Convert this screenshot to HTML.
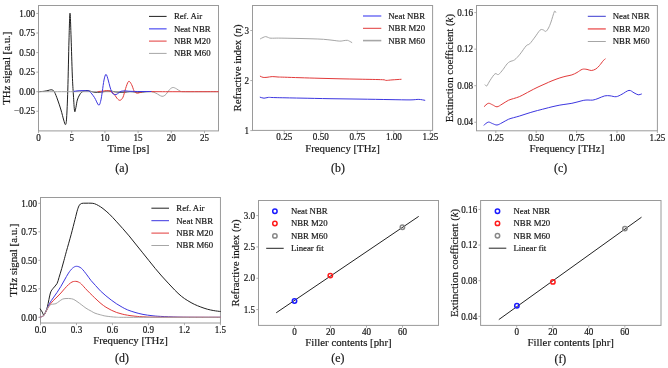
<!DOCTYPE html>
<html><head><meta charset="utf-8"><style>
html,body{margin:0;padding:0;background:#fff;}
body{width:668px;height:368px;overflow:hidden;}
svg{display:block;font-family:"Liberation Serif", serif;will-change:transform;}
svg text{fill:#161616;stroke:#161616;stroke-width:0.18px;}
</style></head><body>
<svg width="668" height="368" viewBox="0 0 668 368">
<rect width="668" height="368" fill="#fff"/>
<rect x="38.5" y="5.5" width="180" height="125.4" fill="none" stroke="#9a9a9a" stroke-width="1.0"/>
<line x1="38.5" y1="130.9" x2="38.5" y2="133.1" stroke="#9a9a9a" stroke-width="0.8"/>
<text x="0" y="0" font-size="9.1" text-anchor="middle" transform="translate(38.5,140.6) scale(1,1.06)">0</text>
<line x1="71.7" y1="130.9" x2="71.7" y2="133.1" stroke="#9a9a9a" stroke-width="0.8"/>
<text x="0" y="0" font-size="9.1" text-anchor="middle" transform="translate(71.7,140.6) scale(1,1.06)">5</text>
<line x1="104.9" y1="130.9" x2="104.9" y2="133.1" stroke="#9a9a9a" stroke-width="0.8"/>
<text x="0" y="0" font-size="9.1" text-anchor="middle" transform="translate(104.9,140.6) scale(1,1.06)">10</text>
<line x1="138.1" y1="130.9" x2="138.1" y2="133.1" stroke="#9a9a9a" stroke-width="0.8"/>
<text x="0" y="0" font-size="9.1" text-anchor="middle" transform="translate(138.1,140.6) scale(1,1.06)">15</text>
<line x1="171.3" y1="130.9" x2="171.3" y2="133.1" stroke="#9a9a9a" stroke-width="0.8"/>
<text x="0" y="0" font-size="9.1" text-anchor="middle" transform="translate(171.3,140.6) scale(1,1.06)">20</text>
<line x1="204.5" y1="130.9" x2="204.5" y2="133.1" stroke="#9a9a9a" stroke-width="0.8"/>
<text x="0" y="0" font-size="9.1" text-anchor="middle" transform="translate(204.5,140.6) scale(1,1.06)">25</text>
<line x1="36.3" y1="111.26" x2="38.5" y2="111.26" stroke="#9a9a9a" stroke-width="0.8"/>
<text x="0" y="0" font-size="9.1" text-anchor="end" transform="translate(35.1,114.46) scale(1,1.06)">−0.25</text>
<line x1="36.3" y1="91.7" x2="38.5" y2="91.7" stroke="#9a9a9a" stroke-width="0.8"/>
<text x="0" y="0" font-size="9.1" text-anchor="end" transform="translate(35.1,94.9) scale(1,1.06)">0.00</text>
<line x1="36.3" y1="72.14" x2="38.5" y2="72.14" stroke="#9a9a9a" stroke-width="0.8"/>
<text x="0" y="0" font-size="9.1" text-anchor="end" transform="translate(35.1,75.34) scale(1,1.06)">0.25</text>
<line x1="36.3" y1="52.58" x2="38.5" y2="52.58" stroke="#9a9a9a" stroke-width="0.8"/>
<text x="0" y="0" font-size="9.1" text-anchor="end" transform="translate(35.1,55.78) scale(1,1.06)">0.50</text>
<line x1="36.3" y1="33.01" x2="38.5" y2="33.01" stroke="#9a9a9a" stroke-width="0.8"/>
<text x="0" y="0" font-size="9.1" text-anchor="end" transform="translate(35.1,36.21) scale(1,1.06)">0.75</text>
<line x1="36.3" y1="13.45" x2="38.5" y2="13.45" stroke="#9a9a9a" stroke-width="0.8"/>
<text x="0" y="0" font-size="9.1" text-anchor="end" transform="translate(35.1,16.65) scale(1,1.06)">1.00</text>
<text x="128.5" y="151.5" font-size="10.8" text-anchor="middle" >Time [ps]</text>
<text x="0" y="0" font-size="10.8" text-anchor="middle" transform="translate(10,68.2) rotate(-90)">THz signal [a.u.]</text>
<path d="M38.5,91.7 C39.42,91.63 42.42,91.5 44,91.3 C45.58,91.1 46.87,90.75 48,90.5 C49.13,90.25 50,89.85 50.8,89.8 C51.6,89.75 52.17,89.8 52.8,90.2 C53.43,90.6 53.78,90.57 54.6,92.2 C55.42,93.83 56.63,97.03 57.7,100 C58.77,102.97 60,106.67 61,110 C62,113.33 62.95,117.57 63.7,120 C64.45,122.43 65.02,124.93 65.5,124.6 C65.98,124.27 66.22,123.77 66.6,118 C66.98,112.23 67.4,103 67.8,90 C68.2,77 68.63,52.8 69,40 C69.37,27.2 69.65,13.53 70,13.2 C70.35,12.87 70.72,27.7 71.1,38 C71.48,48.3 71.92,65.5 72.3,75 C72.68,84.5 73.02,88.97 73.4,95 C73.78,101.03 74.18,109.12 74.6,111.2 C75.02,113.28 75.45,109.37 75.9,107.5 C76.35,105.63 76.7,102.08 77.3,100 C77.9,97.92 78.8,96.27 79.5,95 C80.2,93.73 80.75,93.07 81.5,92.4 C82.25,91.73 83.08,91.3 84,91 C84.92,90.7 85.83,90.53 87,90.6 C88.17,90.67 89.67,91.12 91,91.4 C92.33,91.68 93.5,92.17 95,92.3 C96.5,92.43 98.33,92.33 100,92.2 C101.67,92.07 103.33,91.7 105,91.5 C106.67,91.3 108.33,90.95 110,91 C111.67,91.05 113.33,91.58 115,91.8 C116.67,92.02 118.33,92.23 120,92.3 C121.67,92.37 123.33,92.32 125,92.2 C126.67,92.08 128.33,91.63 130,91.6 C131.67,91.57 133.33,91.88 135,92 C136.67,92.12 138.33,92.33 140,92.3 C141.67,92.27 143.17,91.93 145,91.8 C146.83,91.67 150,91.55 151,91.5" fill="none" stroke="#202020" stroke-width="1.0" stroke-linejoin="round" stroke-linecap="round" opacity="1.0"/>
<path d="M38.5,91.7 C48.75,91.7 81.42,91.7 100,91.7 C118.58,91.7 141.33,91.7 150,91.7 C158.67,91.7 151,91.45 152,91.7 C153,91.95 154.33,92.43 156,93.2 C157.67,93.97 160.33,96.12 162,96.3 C163.67,96.48 164.75,95.42 166,94.3 C167.25,93.18 168.35,90.73 169.5,89.6 C170.65,88.47 171.73,87.63 172.9,87.5 C174.07,87.37 175.23,88.17 176.5,88.8 C177.77,89.43 179.08,90.82 180.5,91.3 C181.92,91.78 181.75,91.63 185,91.7 C188.25,91.77 194.45,91.7 200,91.7 C205.55,91.7 215.25,91.7 218.3,91.7" fill="none" stroke="#a6a6a6" stroke-width="1.0" stroke-linejoin="round" stroke-linecap="round" opacity="1.0"/>
<path d="M98,91.6 C98.83,91.52 101.58,91.27 103,91.1 C104.42,90.93 105.33,90.58 106.5,90.6 C107.67,90.62 108.83,90.75 110,91.2 C111.17,91.65 112.33,92.12 113.5,93.3 C114.67,94.48 115.92,97.13 117,98.3 C118.08,99.47 119,100.48 120,100.3 C121,100.12 122.07,99.17 123,97.2 C123.93,95.23 124.67,91.13 125.6,88.5 C126.53,85.87 127.6,82.05 128.6,81.4 C129.6,80.75 130.7,83.03 131.6,84.6 C132.5,86.17 133.22,89.4 134,90.8 C134.78,92.2 135.53,92.63 136.3,93 C137.07,93.37 137.82,93.15 138.6,93 C139.38,92.85 139.93,92.35 141,92.1 C142.07,91.85 141.83,91.57 145,91.5 C148.17,91.43 147.78,91.67 160,91.7 C172.22,91.73 208.58,91.7 218.3,91.7" fill="none" stroke="#e23a3a" stroke-width="1.0" stroke-linejoin="round" stroke-linecap="round" opacity="1.0"/>
<path d="M74,91.3 C74.67,91.22 76.67,90.92 78,90.8 C79.33,90.68 80.58,90.62 82,90.6 C83.42,90.58 85.25,90.57 86.5,90.7 C87.75,90.83 88.18,90.28 89.5,91.4 C90.82,92.52 92.88,95.12 94.4,97.4 C95.92,99.68 97.55,104.5 98.6,105.1 C99.65,105.7 100.08,103.25 100.7,101 C101.32,98.75 101.75,95.1 102.3,91.6 C102.85,88.1 103.38,82.88 104,80 C104.62,77.12 105.3,74.3 106,74.3 C106.7,74.3 107.53,77.88 108.2,80 C108.87,82.12 109.43,85.07 110,87 C110.57,88.93 111.07,90.43 111.6,91.6 C112.13,92.77 112.47,93.5 113.2,94 C113.93,94.5 115.03,94.83 116,94.6 C116.97,94.37 118.17,93.15 119,92.6 C119.83,92.05 120,91.58 121,91.3 C122,91.02 123.5,90.9 125,90.9 C126.5,90.9 127.5,91.2 130,91.3 C132.5,91.4 136.5,91.47 140,91.5 C143.5,91.53 149.17,91.5 151,91.5" fill="none" stroke="#3c36e0" stroke-width="1.0" stroke-linejoin="round" stroke-linecap="round" opacity="1.0"/>
<line x1="149" y1="16.4" x2="166.6" y2="16.4" stroke="#202020" stroke-width="1.0" opacity="1"/>
<text x="173.9" y="19.3" font-size="8.75" text-anchor="start" >Ref. Air</text>
<line x1="149" y1="28.8" x2="166.6" y2="28.8" stroke="#7a7af5" stroke-width="1.6" opacity="1"/>
<text x="173.9" y="31.7" font-size="8.75" text-anchor="start" >Neat NBR</text>
<line x1="149" y1="41.1" x2="166.6" y2="41.1" stroke="#e23a3a" stroke-width="1.0" opacity="1"/>
<text x="173.9" y="44" font-size="8.75" text-anchor="start" >NBR M20</text>
<line x1="149" y1="53.4" x2="166.6" y2="53.4" stroke="#a6a6a6" stroke-width="1.0" opacity="1"/>
<text x="173.9" y="56.3" font-size="8.75" text-anchor="start" >NBR M60</text>
<rect x="252.5" y="5.5" width="180.1" height="124.9" fill="none" stroke="#9a9a9a" stroke-width="1.0"/>
<line x1="284.26" y1="130.4" x2="284.26" y2="132.6" stroke="#9a9a9a" stroke-width="0.8"/>
<text x="0" y="0" font-size="9.1" text-anchor="middle" transform="translate(284.26,140.3) scale(1,1.06)">0.25</text>
<line x1="320.8" y1="130.4" x2="320.8" y2="132.6" stroke="#9a9a9a" stroke-width="0.8"/>
<text x="0" y="0" font-size="9.1" text-anchor="middle" transform="translate(320.8,140.3) scale(1,1.06)">0.50</text>
<line x1="357.33" y1="130.4" x2="357.33" y2="132.6" stroke="#9a9a9a" stroke-width="0.8"/>
<text x="0" y="0" font-size="9.1" text-anchor="middle" transform="translate(357.33,140.3) scale(1,1.06)">0.75</text>
<line x1="393.87" y1="130.4" x2="393.87" y2="132.6" stroke="#9a9a9a" stroke-width="0.8"/>
<text x="0" y="0" font-size="9.1" text-anchor="middle" transform="translate(393.87,140.3) scale(1,1.06)">1.00</text>
<line x1="430.4" y1="130.4" x2="430.4" y2="132.6" stroke="#9a9a9a" stroke-width="0.8"/>
<text x="0" y="0" font-size="9.1" text-anchor="middle" transform="translate(430.4,140.3) scale(1,1.06)">1.25</text>
<line x1="250.3" y1="130.6" x2="252.5" y2="130.6" stroke="#9a9a9a" stroke-width="0.8"/>
<text x="0" y="0" font-size="9.1" text-anchor="end" transform="translate(249.1,133.8) scale(1,1.06)">1</text>
<line x1="250.3" y1="80.55" x2="252.5" y2="80.55" stroke="#9a9a9a" stroke-width="0.8"/>
<text x="0" y="0" font-size="9.1" text-anchor="end" transform="translate(249.1,83.75) scale(1,1.06)">2</text>
<line x1="250.3" y1="30.5" x2="252.5" y2="30.5" stroke="#9a9a9a" stroke-width="0.8"/>
<text x="0" y="0" font-size="9.1" text-anchor="end" transform="translate(249.1,33.7) scale(1,1.06)">3</text>
<text x="342.55" y="151.5" font-size="10.8" text-anchor="middle" >Frequency [THz]</text>
<text x="0" y="0" font-size="10.8" text-anchor="middle" transform="translate(240.7,67.95) rotate(-90)">Refractive index (<tspan font-style="italic">n</tspan>)</text>
<path d="M260.2,97.2 C260.83,97.37 262.65,98.17 264,98.2 C265.35,98.23 266.47,97.5 268.3,97.4 C270.13,97.3 269.72,97.48 275,97.6 C280.28,97.72 290.83,97.92 300,98.1 C309.17,98.28 320,98.53 330,98.7 C340,98.87 350,98.95 360,99.1 C370,99.25 381.67,99.47 390,99.6 C398.33,99.73 405.2,99.93 410,99.9 C414.8,99.87 416.33,99.33 418.8,99.4 C421.27,99.47 423.8,100.15 424.8,100.3" fill="none" stroke="#3c36e0" stroke-width="1.0" stroke-linejoin="round" stroke-linecap="round" opacity="1.0"/>
<path d="M260.3,76.2 C260.77,76.4 261.98,77.22 263.1,77.4 C264.22,77.58 265.48,77.43 267,77.3 C268.52,77.17 270.37,76.65 272.2,76.6 C274.03,76.55 275.95,76.9 278,77 C280.05,77.1 280.83,77.08 284.5,77.2 C288.17,77.32 294.08,77.52 300,77.7 C305.92,77.88 313.33,78.12 320,78.3 C326.67,78.48 333.33,78.65 340,78.8 C346.67,78.95 352.93,79.05 360,79.2 C367.07,79.35 378.05,79.5 382.4,79.7 C386.75,79.9 384.5,80.37 386.1,80.4 C387.7,80.43 389.5,80.08 392,79.9 C394.5,79.72 399.58,79.4 401.1,79.3" fill="none" stroke="#e23a3a" stroke-width="1.0" stroke-linejoin="round" stroke-linecap="round" opacity="1.0"/>
<path d="M260.5,38.8 C260.92,38.58 262.13,37.87 263,37.5 C263.87,37.13 264.78,36.58 265.7,36.6 C266.62,36.62 267.62,37.33 268.5,37.6 C269.38,37.87 269.33,38.12 271,38.2 C272.67,38.28 275.33,38.08 278.5,38.1 C281.67,38.12 286.25,38.23 290,38.3 C293.75,38.37 297.33,38.42 301,38.5 C304.67,38.58 308.27,38.67 312,38.8 C315.73,38.93 320.07,39.07 323.4,39.3 C326.73,39.53 329.27,39.9 332,40.2 C334.73,40.5 337.8,41.03 339.8,41.1 C341.8,41.17 342.75,40.73 344,40.6 C345.25,40.47 346.38,40.2 347.3,40.3 C348.22,40.4 348.75,40.83 349.5,41.2 C350.25,41.57 351.42,42.28 351.8,42.5" fill="none" stroke="#a6a6a6" stroke-width="1.0" stroke-linejoin="round" stroke-linecap="round" opacity="1.0"/>
<line x1="363" y1="16" x2="381.3" y2="16" stroke="#7a7af5" stroke-width="1.6" opacity="1"/>
<text x="388.3" y="18.9" font-size="8.75" text-anchor="start" >Neat NBR</text>
<line x1="363" y1="28.3" x2="381.3" y2="28.3" stroke="#e23a3a" stroke-width="1.0" opacity="1"/>
<text x="388.3" y="31.2" font-size="8.75" text-anchor="start" >NBR M20</text>
<line x1="363" y1="40.6" x2="381.3" y2="40.6" stroke="#a6a6a6" stroke-width="1.6" opacity="1"/>
<text x="388.3" y="43.5" font-size="8.75" text-anchor="start" >NBR M60</text>
<rect x="476.5" y="5.5" width="180.9" height="125.3" fill="none" stroke="#9a9a9a" stroke-width="1.0"/>
<line x1="495.8" y1="130.8" x2="495.8" y2="133" stroke="#9a9a9a" stroke-width="0.8"/>
<text x="0" y="0" font-size="9.1" text-anchor="middle" transform="translate(495.8,140.6) scale(1,1.06)">0.25</text>
<line x1="536.2" y1="130.8" x2="536.2" y2="133" stroke="#9a9a9a" stroke-width="0.8"/>
<text x="0" y="0" font-size="9.1" text-anchor="middle" transform="translate(536.2,140.6) scale(1,1.06)">0.50</text>
<line x1="576.6" y1="130.8" x2="576.6" y2="133" stroke="#9a9a9a" stroke-width="0.8"/>
<text x="0" y="0" font-size="9.1" text-anchor="middle" transform="translate(576.6,140.6) scale(1,1.06)">0.75</text>
<line x1="617" y1="130.8" x2="617" y2="133" stroke="#9a9a9a" stroke-width="0.8"/>
<text x="0" y="0" font-size="9.1" text-anchor="middle" transform="translate(617,140.6) scale(1,1.06)">1.00</text>
<line x1="657.4" y1="130.8" x2="657.4" y2="133" stroke="#9a9a9a" stroke-width="0.8"/>
<text x="0" y="0" font-size="9.1" text-anchor="middle" transform="translate(657.4,140.6) scale(1,1.06)">1.25</text>
<line x1="474.3" y1="122.26" x2="476.5" y2="122.26" stroke="#9a9a9a" stroke-width="0.8"/>
<text x="0" y="0" font-size="9.1" text-anchor="end" transform="translate(473.1,125.46) scale(1,1.06)">0.04</text>
<line x1="474.3" y1="85.7" x2="476.5" y2="85.7" stroke="#9a9a9a" stroke-width="0.8"/>
<text x="0" y="0" font-size="9.1" text-anchor="end" transform="translate(473.1,88.9) scale(1,1.06)">0.08</text>
<line x1="474.3" y1="49.15" x2="476.5" y2="49.15" stroke="#9a9a9a" stroke-width="0.8"/>
<text x="0" y="0" font-size="9.1" text-anchor="end" transform="translate(473.1,52.35) scale(1,1.06)">0.12</text>
<line x1="474.3" y1="12.6" x2="476.5" y2="12.6" stroke="#9a9a9a" stroke-width="0.8"/>
<text x="0" y="0" font-size="9.1" text-anchor="end" transform="translate(473.1,15.8) scale(1,1.06)">0.16</text>
<text x="566.95" y="151.8" font-size="10.8" text-anchor="middle" >Frequency [THz]</text>
<text x="0" y="0" font-size="10.8" text-anchor="middle" transform="translate(453.3,68.15) rotate(-90)">Extinction coefficient (<tspan font-style="italic">k</tspan>)</text>
<path d="M484,125.1 C484.72,124.6 486.88,122.35 488.3,122.1 C489.72,121.85 491.05,123.12 492.5,123.6 C493.95,124.08 495.42,125.13 497,125 C498.58,124.87 500.1,123.75 502,122.8 C503.9,121.85 506.48,120.15 508.4,119.3 C510.32,118.45 511.68,118.23 513.5,117.7 C515.32,117.17 517.05,116.78 519.3,116.1 C521.55,115.42 524.38,114.42 527,113.6 C529.62,112.78 532,112.03 535,111.2 C538,110.37 542.17,109.33 545,108.6 C547.83,107.87 549.52,107.38 552,106.8 C554.48,106.22 557.57,105.53 559.9,105.1 C562.23,104.67 564,104.5 566,104.2 C568,103.9 569.9,103.7 571.9,103.3 C573.9,102.9 576.02,102.3 578,101.8 C579.98,101.3 582.13,100.6 583.8,100.3 C585.47,100 586.5,100.03 588,100 C589.5,99.97 591.13,100.35 592.8,100.1 C594.47,99.85 596.02,99.2 598,98.5 C599.98,97.8 602.7,96.35 604.7,95.9 C606.7,95.45 608.08,95.67 610,95.8 C611.92,95.93 614.2,96.97 616.2,96.7 C618.2,96.43 619.87,95.25 622,94.2 C624.13,93.15 627,90.63 629,90.4 C631,90.17 632.47,92.07 634,92.8 C635.53,93.53 636.97,94.6 638.2,94.8 C639.43,95 640.87,94.13 641.4,94" fill="none" stroke="#3c36e0" stroke-width="1.0" stroke-linejoin="round" stroke-linecap="round" opacity="1.0"/>
<path d="M484.3,106.5 C484.97,105.97 486.93,103.58 488.3,103.3 C489.67,103.02 491.05,104.22 492.5,104.8 C493.95,105.38 495.42,106.9 497,106.8 C498.58,106.7 500.1,105.28 502,104.2 C503.9,103.12 506.48,101.23 508.4,100.3 C510.32,99.37 511.68,99.2 513.5,98.6 C515.32,98 517.38,97.5 519.3,96.7 C521.22,95.9 523.22,94.73 525,93.8 C526.78,92.87 528,92.15 530,91.1 C532,90.05 534.5,88.7 537,87.5 C539.5,86.3 542.5,85.02 545,83.9 C547.5,82.78 549.52,81.8 552,80.8 C554.48,79.8 557.57,78.67 559.9,77.9 C562.23,77.13 564,76.7 566,76.2 C568,75.7 570.07,75.52 571.9,74.9 C573.73,74.28 575.27,73.43 577,72.5 C578.73,71.57 580.63,69.82 582.3,69.3 C583.97,68.78 585.5,69.2 587,69.4 C588.5,69.6 589.83,70.57 591.3,70.5 C592.77,70.43 594.43,69.83 595.8,69 C597.17,68.17 598.27,66.88 599.5,65.5 C600.73,64.12 602.25,61.78 603.2,60.7 C604.15,59.62 604.87,59.28 605.2,59" fill="none" stroke="#e23a3a" stroke-width="1.0" stroke-linejoin="round" stroke-linecap="round" opacity="1.0"/>
<path d="M485.2,84.8 C485.47,84.98 486,86.62 486.8,85.9 C487.6,85.18 488.63,82.52 490,80.5 C491.37,78.48 493.58,74.8 495,73.8 C496.42,72.8 497.17,75.22 498.5,74.5 C499.83,73.78 501.58,71.25 503,69.5 C504.42,67.75 505.83,65.32 507,64 C508.17,62.68 508.73,62.3 510,61.6 C511.27,60.9 512.93,61.03 514.6,59.8 C516.27,58.57 518.07,56.53 520,54.2 C521.93,51.87 524.58,47.53 526.2,45.8 C527.82,44.07 528.23,45.27 529.7,43.8 C531.17,42.33 533.28,39.27 535,37 C536.72,34.73 538.67,31.4 540,30.2 C541.33,29 542.03,29.6 543,29.8 C543.97,30 544.88,31.7 545.8,31.4 C546.72,31.1 547.63,29.57 548.5,28 C549.37,26.43 550.02,24.75 551,22 C551.98,19.25 553.62,13.08 554.4,11.5 C555.18,9.92 555.48,12.33 555.7,12.5" fill="none" stroke="#a6a6a6" stroke-width="1.0" stroke-linejoin="round" stroke-linecap="round" opacity="1.0"/>
<line x1="587.8" y1="16.3" x2="605.8" y2="16.3" stroke="#3a3ad0" stroke-width="1.0" opacity="1"/>
<text x="612.8" y="19.2" font-size="8.75" text-anchor="start" >Neat NBR</text>
<line x1="587.8" y1="28.9" x2="605.8" y2="28.9" stroke="#f08080" stroke-width="1.8" opacity="1"/>
<text x="612.8" y="31.8" font-size="8.75" text-anchor="start" >NBR M20</text>
<line x1="587.8" y1="41.5" x2="605.8" y2="41.5" stroke="#a6a6a6" stroke-width="1.0" opacity="1"/>
<text x="612.8" y="44.4" font-size="8.75" text-anchor="start" >NBR M60</text>
<rect x="40.5" y="197.5" width="179.95" height="125.5" fill="none" stroke="#9a9a9a" stroke-width="1.0"/>
<line x1="40.5" y1="323" x2="40.5" y2="325.2" stroke="#9a9a9a" stroke-width="0.8"/>
<text x="0" y="0" font-size="9.1" text-anchor="middle" transform="translate(40.5,332.7) scale(1,1.06)">0.0</text>
<line x1="76.49" y1="323" x2="76.49" y2="325.2" stroke="#9a9a9a" stroke-width="0.8"/>
<text x="0" y="0" font-size="9.1" text-anchor="middle" transform="translate(76.49,332.7) scale(1,1.06)">0.3</text>
<line x1="112.48" y1="323" x2="112.48" y2="325.2" stroke="#9a9a9a" stroke-width="0.8"/>
<text x="0" y="0" font-size="9.1" text-anchor="middle" transform="translate(112.48,332.7) scale(1,1.06)">0.6</text>
<line x1="148.47" y1="323" x2="148.47" y2="325.2" stroke="#9a9a9a" stroke-width="0.8"/>
<text x="0" y="0" font-size="9.1" text-anchor="middle" transform="translate(148.47,332.7) scale(1,1.06)">0.9</text>
<line x1="184.46" y1="323" x2="184.46" y2="325.2" stroke="#9a9a9a" stroke-width="0.8"/>
<text x="0" y="0" font-size="9.1" text-anchor="middle" transform="translate(184.46,332.7) scale(1,1.06)">1.2</text>
<line x1="220.45" y1="323" x2="220.45" y2="325.2" stroke="#9a9a9a" stroke-width="0.8"/>
<text x="0" y="0" font-size="9.1" text-anchor="middle" transform="translate(220.45,332.7) scale(1,1.06)">1.5</text>
<line x1="38.3" y1="317.3" x2="40.5" y2="317.3" stroke="#9a9a9a" stroke-width="0.8"/>
<text x="0" y="0" font-size="9.1" text-anchor="end" transform="translate(37.1,320.5) scale(1,1.06)">0.00</text>
<line x1="38.3" y1="288.8" x2="40.5" y2="288.8" stroke="#9a9a9a" stroke-width="0.8"/>
<text x="0" y="0" font-size="9.1" text-anchor="end" transform="translate(37.1,292) scale(1,1.06)">0.25</text>
<line x1="38.3" y1="260.3" x2="40.5" y2="260.3" stroke="#9a9a9a" stroke-width="0.8"/>
<text x="0" y="0" font-size="9.1" text-anchor="end" transform="translate(37.1,263.5) scale(1,1.06)">0.50</text>
<line x1="38.3" y1="231.8" x2="40.5" y2="231.8" stroke="#9a9a9a" stroke-width="0.8"/>
<text x="0" y="0" font-size="9.1" text-anchor="end" transform="translate(37.1,235) scale(1,1.06)">0.75</text>
<line x1="38.3" y1="203.3" x2="40.5" y2="203.3" stroke="#9a9a9a" stroke-width="0.8"/>
<text x="0" y="0" font-size="9.1" text-anchor="end" transform="translate(37.1,206.5) scale(1,1.06)">1.00</text>
<text x="130.47" y="344" font-size="10.8" text-anchor="middle" >Frequency [THz]</text>
<text x="0" y="0" font-size="10.8" text-anchor="middle" transform="translate(17,260.25) rotate(-90)">THz signal [a.u.]</text>
<path d="M40.2,308.9 C40.53,309.42 41.62,310.98 42.2,312 C42.78,313.02 43.15,315 43.7,315 C44.25,315 44.87,313.43 45.5,312 C46.13,310.57 46.68,309.57 47.5,306.4 C48.32,303.23 49.45,296.02 50.4,293 C51.35,289.98 52.1,289.87 53.2,288.3 C54.3,286.73 56.03,285.4 57,283.6 C57.97,281.8 58.22,280 59,277.5 C59.78,275 60.87,271.47 61.7,268.6 C62.53,265.73 63.22,263.17 64,260.3 C64.78,257.43 65.2,255.73 66.4,251.4 C67.6,247.07 69.77,239.62 71.2,234.3 C72.63,228.98 73.95,223.58 75,219.5 C76.05,215.42 76.77,212.18 77.5,209.8 C78.23,207.42 78.7,206.27 79.4,205.2 C80.1,204.13 80.6,203.73 81.7,203.4 C82.8,203.07 84.45,203.23 86,203.2 C87.55,203.17 89.58,203.12 91,203.2 C92.42,203.28 93.25,203.3 94.5,203.7 C95.75,204.1 97.08,204.78 98.5,205.6 C99.92,206.42 101.17,207.17 103,208.6 C104.83,210.03 107.32,212.1 109.5,214.2 C111.68,216.3 113.92,218.83 116.1,221.2 C118.28,223.57 120.43,225.95 122.6,228.4 C124.77,230.85 126.93,233.3 129.1,235.9 C131.27,238.5 133.42,241.28 135.6,244 C137.78,246.72 140.02,249.48 142.2,252.2 C144.38,254.92 146.53,257.6 148.7,260.3 C150.87,263 153.03,265.78 155.2,268.4 C157.37,271.02 159.53,273.55 161.7,276 C163.87,278.45 166.03,280.77 168.2,283.1 C170.37,285.43 172.52,287.82 174.7,290 C176.88,292.18 179.12,294.42 181.3,296.2 C183.48,297.98 185.63,299.35 187.8,300.7 C189.97,302.05 192.13,303.25 194.3,304.3 C196.47,305.35 198.63,306.18 200.8,307 C202.97,307.82 205.13,308.6 207.3,309.2 C209.47,309.8 211.63,310.22 213.8,310.6 C215.97,310.98 219.22,311.35 220.3,311.5" fill="none" stroke="#202020" stroke-width="1.0" stroke-linejoin="round" stroke-linecap="round" opacity="1.0"/>
<path d="M40.2,317 C40.78,316.77 42.63,316.73 43.7,315.6 C44.77,314.47 45.63,312.22 46.6,310.2 C47.57,308.18 48.4,305.55 49.5,303.5 C50.6,301.45 51.95,299.73 53.2,297.9 C54.45,296.07 55.72,294.42 57,292.5 C58.28,290.58 59.65,288.48 60.9,286.4 C62.15,284.32 63.23,282.22 64.5,280 C65.77,277.78 67.17,275.07 68.5,273.1 C69.83,271.13 71.17,269.33 72.5,268.2 C73.83,267.07 75.02,266.28 76.5,266.3 C77.98,266.32 79.67,266.87 81.4,268.3 C83.13,269.73 85.3,272.87 86.9,274.9 C88.5,276.93 89.57,278.73 91,280.5 C92.43,282.27 93.93,283.77 95.5,285.5 C97.07,287.23 98.67,289.18 100.4,290.9 C102.13,292.62 104.08,294.27 105.9,295.8 C107.72,297.33 109.5,298.75 111.3,300.1 C113.1,301.45 114.88,302.72 116.7,303.9 C118.52,305.08 120.38,306.2 122.2,307.2 C124.02,308.2 125.47,309.03 127.6,309.9 C129.73,310.77 132.43,311.65 135,312.4 C137.57,313.15 140.17,313.85 143,314.4 C145.83,314.95 149.07,315.37 152,315.7 C154.93,316.03 156.27,316.17 160.6,316.4 C164.93,316.63 171.43,316.95 178,317.1 C184.57,317.25 192.95,317.27 200,317.3 C207.05,317.33 216.92,317.3 220.3,317.3" fill="none" stroke="#3c36e0" stroke-width="1.0" stroke-linejoin="round" stroke-linecap="round" opacity="1.0"/>
<path d="M40.2,317 C40.78,316.77 42.63,316.68 43.7,315.6 C44.77,314.52 45.63,312.23 46.6,310.5 C47.57,308.77 48.4,306.83 49.5,305.2 C50.6,303.57 51.95,302.07 53.2,300.7 C54.45,299.33 55.72,298.28 57,297 C58.28,295.72 59.65,294.37 60.9,293 C62.15,291.63 63.23,290.2 64.5,288.8 C65.77,287.4 67.25,285.73 68.5,284.6 C69.75,283.47 71,282.53 72,282 C73,281.47 73.67,281.48 74.5,281.4 C75.33,281.32 76.17,281.3 77,281.5 C77.83,281.7 78.77,282.17 79.5,282.6 C80.23,283.03 80.17,282.85 81.4,284.1 C82.63,285.35 85.08,288.2 86.9,290.1 C88.72,292 90.62,293.85 92.3,295.5 C93.98,297.15 95.55,298.65 97,300 C98.45,301.35 99.52,302.4 101,303.6 C102.48,304.8 104.18,306.1 105.9,307.2 C107.62,308.3 109.5,309.32 111.3,310.2 C113.1,311.08 114.88,311.85 116.7,312.5 C118.52,313.15 120.38,313.65 122.2,314.1 C124.02,314.55 125.47,314.85 127.6,315.2 C129.73,315.55 132.1,315.92 135,316.2 C137.9,316.48 140.83,316.73 145,316.9 C149.17,317.07 147.45,317.13 160,317.2 C172.55,317.27 210.25,317.28 220.3,317.3" fill="none" stroke="#e23a3a" stroke-width="1.0" stroke-linejoin="round" stroke-linecap="round" opacity="1.0"/>
<path d="M40.2,317 C40.78,316.77 42.63,316.73 43.7,315.6 C44.77,314.47 45.72,311.8 46.6,310.2 C47.48,308.6 48.22,306.95 49,306 C49.78,305.05 50.47,304.83 51.3,304.5 C52.13,304.17 53.22,304.15 54,304 C54.78,303.85 55.17,304.02 56,303.6 C56.83,303.18 57.87,302.27 59,301.5 C60.13,300.73 61.47,299.5 62.8,299 C64.13,298.5 65.8,298.57 67,298.5 C68.2,298.43 68.97,298.48 70,298.6 C71.03,298.72 72.03,298.72 73.2,299.2 C74.37,299.68 75.57,300.53 77,301.5 C78.43,302.47 80.3,303.88 81.8,305 C83.3,306.12 84.42,307.17 86,308.2 C87.58,309.23 89.8,310.37 91.3,311.2 C92.8,312.03 93.48,312.6 95,313.2 C96.52,313.8 98.58,314.32 100.4,314.8 C102.22,315.28 103.18,315.7 105.9,316.1 C108.62,316.5 112.68,317 116.7,317.2 C120.72,317.4 112.73,317.28 130,317.3 C147.27,317.32 205.25,317.3 220.3,317.3" fill="none" stroke="#a6a6a6" stroke-width="1.0" stroke-linejoin="round" stroke-linecap="round" opacity="1.0"/>
<line x1="151.4" y1="208.2" x2="169" y2="208.2" stroke="#202020" stroke-width="1.0" opacity="1"/>
<text x="176.3" y="211.1" font-size="8.75" text-anchor="start" >Ref. Air</text>
<line x1="151.4" y1="220.7" x2="169" y2="220.7" stroke="#3c36e0" stroke-width="1.0" opacity="1"/>
<text x="176.3" y="223.6" font-size="8.75" text-anchor="start" >Neat NBR</text>
<line x1="151.4" y1="233.1" x2="169" y2="233.1" stroke="#e23a3a" stroke-width="1.0" opacity="1"/>
<text x="176.3" y="236" font-size="8.75" text-anchor="start" >NBR M20</text>
<line x1="151.4" y1="245.5" x2="169" y2="245.5" stroke="#a6a6a6" stroke-width="1.0" opacity="1"/>
<text x="176.3" y="248.4" font-size="8.75" text-anchor="start" >NBR M60</text>
<rect x="258.5" y="200.5" width="180" height="124.9" fill="none" stroke="#9a9a9a" stroke-width="1.0"/>
<line x1="294.5" y1="325.4" x2="294.5" y2="327.6" stroke="#9a9a9a" stroke-width="0.8"/>
<text x="0" y="0" font-size="9.1" text-anchor="middle" transform="translate(294.5,335.4) scale(1,1.06)">0</text>
<line x1="330.5" y1="325.4" x2="330.5" y2="327.6" stroke="#9a9a9a" stroke-width="0.8"/>
<text x="0" y="0" font-size="9.1" text-anchor="middle" transform="translate(330.5,335.4) scale(1,1.06)">20</text>
<line x1="366.5" y1="325.4" x2="366.5" y2="327.6" stroke="#9a9a9a" stroke-width="0.8"/>
<text x="0" y="0" font-size="9.1" text-anchor="middle" transform="translate(366.5,335.4) scale(1,1.06)">40</text>
<line x1="402.5" y1="325.4" x2="402.5" y2="327.6" stroke="#9a9a9a" stroke-width="0.8"/>
<text x="0" y="0" font-size="9.1" text-anchor="middle" transform="translate(402.5,335.4) scale(1,1.06)">60</text>
<line x1="256.3" y1="309.6" x2="258.5" y2="309.6" stroke="#9a9a9a" stroke-width="0.8"/>
<text x="0" y="0" font-size="9.1" text-anchor="end" transform="translate(255.1,312.8) scale(1,1.06)">1.5</text>
<line x1="256.3" y1="278.27" x2="258.5" y2="278.27" stroke="#9a9a9a" stroke-width="0.8"/>
<text x="0" y="0" font-size="9.1" text-anchor="end" transform="translate(255.1,281.47) scale(1,1.06)">2.0</text>
<line x1="256.3" y1="246.93" x2="258.5" y2="246.93" stroke="#9a9a9a" stroke-width="0.8"/>
<text x="0" y="0" font-size="9.1" text-anchor="end" transform="translate(255.1,250.13) scale(1,1.06)">2.5</text>
<line x1="256.3" y1="215.6" x2="258.5" y2="215.6" stroke="#9a9a9a" stroke-width="0.8"/>
<text x="0" y="0" font-size="9.1" text-anchor="end" transform="translate(255.1,218.8) scale(1,1.06)">3.0</text>
<text x="348.5" y="346.2" font-size="10.8" text-anchor="middle" >Filler contents [phr]</text>
<text x="0" y="0" font-size="10.8" text-anchor="middle" transform="translate(239.3,262.95) rotate(-90)">Refractive index (<tspan font-style="italic">n</tspan>)</text>
<line x1="276.2" y1="312.8" x2="418.7" y2="216.4" stroke="#222" stroke-width="1"/>
<circle cx="294.5" cy="301" r="2.2" fill="none" stroke="#1a1aff" stroke-width="1.5"/>
<circle cx="330.3" cy="275.6" r="2.2" fill="none" stroke="#ff1a1a" stroke-width="1.5"/>
<circle cx="402.4" cy="227.3" r="2.2" fill="none" stroke="#888" stroke-width="1.5"/>
<circle cx="274.9" cy="211.2" r="2.2" fill="none" stroke="#1a1aff" stroke-width="1.5"/>
<text x="290.9" y="214.1" font-size="8.75" text-anchor="start" >Neat NBR</text>
<circle cx="274.9" cy="223.5" r="2.2" fill="none" stroke="#ff1a1a" stroke-width="1.5"/>
<text x="290.9" y="226.4" font-size="8.75" text-anchor="start" >NBR M20</text>
<circle cx="274.9" cy="235.9" r="2.2" fill="none" stroke="#888" stroke-width="1.5"/>
<text x="290.9" y="238.8" font-size="8.75" text-anchor="start" >NBR M60</text>
<line x1="266.2" y1="248.3" x2="283.7" y2="248.3" stroke="#222" stroke-width="1"/>
<text x="290.9" y="251.2" font-size="8.75" text-anchor="start" >Linear fit</text>
<rect x="480.6" y="200.5" width="180.4" height="124.9" fill="none" stroke="#9a9a9a" stroke-width="1.0"/>
<line x1="516.66" y1="325.4" x2="516.66" y2="327.6" stroke="#9a9a9a" stroke-width="0.8"/>
<text x="0" y="0" font-size="9.1" text-anchor="middle" transform="translate(516.66,335.4) scale(1,1.06)">0</text>
<line x1="552.72" y1="325.4" x2="552.72" y2="327.6" stroke="#9a9a9a" stroke-width="0.8"/>
<text x="0" y="0" font-size="9.1" text-anchor="middle" transform="translate(552.72,335.4) scale(1,1.06)">20</text>
<line x1="588.78" y1="325.4" x2="588.78" y2="327.6" stroke="#9a9a9a" stroke-width="0.8"/>
<text x="0" y="0" font-size="9.1" text-anchor="middle" transform="translate(588.78,335.4) scale(1,1.06)">40</text>
<line x1="624.84" y1="325.4" x2="624.84" y2="327.6" stroke="#9a9a9a" stroke-width="0.8"/>
<text x="0" y="0" font-size="9.1" text-anchor="middle" transform="translate(624.84,335.4) scale(1,1.06)">60</text>
<line x1="478.4" y1="316.35" x2="480.6" y2="316.35" stroke="#9a9a9a" stroke-width="0.8"/>
<text x="0" y="0" font-size="9.1" text-anchor="end" transform="translate(477.2,319.55) scale(1,1.06)">0.04</text>
<line x1="478.4" y1="280.7" x2="480.6" y2="280.7" stroke="#9a9a9a" stroke-width="0.8"/>
<text x="0" y="0" font-size="9.1" text-anchor="end" transform="translate(477.2,283.9) scale(1,1.06)">0.08</text>
<line x1="478.4" y1="245.05" x2="480.6" y2="245.05" stroke="#9a9a9a" stroke-width="0.8"/>
<text x="0" y="0" font-size="9.1" text-anchor="end" transform="translate(477.2,248.25) scale(1,1.06)">0.12</text>
<line x1="478.4" y1="209.41" x2="480.6" y2="209.41" stroke="#9a9a9a" stroke-width="0.8"/>
<text x="0" y="0" font-size="9.1" text-anchor="end" transform="translate(477.2,212.61) scale(1,1.06)">0.16</text>
<text x="570.8" y="346.4" font-size="10.8" text-anchor="middle" >Filler contents [phr]</text>
<text x="0" y="0" font-size="10.8" text-anchor="middle" transform="translate(457.9,262.95) rotate(-90)">Extinction coefficient (<tspan font-style="italic">k</tspan>)</text>
<line x1="498.8" y1="319.6" x2="641.5" y2="217.2" stroke="#222" stroke-width="1"/>
<circle cx="516.9" cy="305.7" r="2.2" fill="none" stroke="#1a1aff" stroke-width="1.5"/>
<circle cx="552.9" cy="281.9" r="2.2" fill="none" stroke="#ff1a1a" stroke-width="1.5"/>
<circle cx="624.9" cy="228.6" r="2.2" fill="none" stroke="#888" stroke-width="1.5"/>
<circle cx="497.5" cy="211.2" r="2.2" fill="none" stroke="#1a1aff" stroke-width="1.5"/>
<text x="513.5" y="214.1" font-size="8.75" text-anchor="start" >Neat NBR</text>
<circle cx="497.5" cy="223.4" r="2.2" fill="none" stroke="#ff1a1a" stroke-width="1.5"/>
<text x="513.5" y="226.3" font-size="8.75" text-anchor="start" >NBR M20</text>
<circle cx="497.5" cy="235.8" r="2.2" fill="none" stroke="#888" stroke-width="1.5"/>
<text x="513.5" y="238.7" font-size="8.75" text-anchor="start" >NBR M60</text>
<line x1="488.8" y1="248.2" x2="506.3" y2="248.2" stroke="#222" stroke-width="1"/>
<text x="513.5" y="251.1" font-size="8.75" text-anchor="start" >Linear fit</text>
<text x="121.9" y="172" font-size="11.8" text-anchor="middle" >(a)</text>
<text x="338" y="172" font-size="11.8" text-anchor="middle" >(b)</text>
<text x="560.6" y="172" font-size="11.8" text-anchor="middle" >(c)</text>
<text x="122" y="362.4" font-size="11.8" text-anchor="middle" >(d)</text>
<text x="337.9" y="362.4" font-size="11.8" text-anchor="middle" >(e)</text>
<text x="560.4" y="362.6" font-size="11.8" text-anchor="middle" >(f)</text>
</svg></body></html>
